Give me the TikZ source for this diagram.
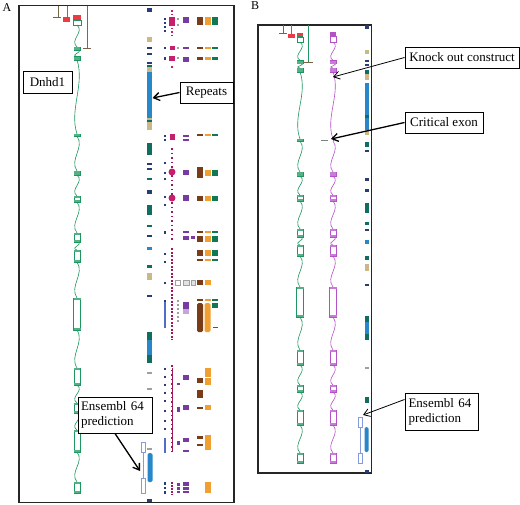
\documentclass[tikz,border=0pt]{standalone}
\usepackage{fontspec}
\setmainfont{Liberation Serif}
\usetikzlibrary{arrows.meta}
\definecolor{gn}{RGB}{30,150,95}
\definecolor{vi}{RGB}{180,80,200}
\definecolor{rd}{RGB}{235,60,70}
\definecolor{rb}{RGB}{40,135,200}
\definecolor{bg}{RGB}{200,185,135}
\definecolor{tl}{RGB}{15,110,95}
\definecolor{mg}{RGB}{200,30,110}
\definecolor{pu}{RGB}{120,60,160}
\definecolor{br}{RGB}{120,60,25}
\definecolor{orx}{RGB}{240,160,50}
\definecolor{dg}{RGB}{15,120,85}
\definecolor{nv}{RGB}{40,60,120}
\definecolor{lb}{RGB}{80,110,200}
\definecolor{gy}{RGB}{160,160,160}
\definecolor{tk}{RGB}{120,100,70}
\tikzset{
  frame/.style={draw=black!85, line width=1.4pt},
  lbl/.style={draw=black, line width=0.9pt, fill=white, inner sep=2pt, font=\fontsize{13}{15}\selectfont},
  ptr/.style={-{Straight Barb[length=6pt,width=8pt]}, line width=1.3pt},
  thinptr/.style={-{Straight Barb[length=6pt,width=8pt]}, line width=0.8pt},
  letter/.style={font=\fontsize{12}{14}\selectfont, inner sep=0pt}
}
% x, halfwidth, y1, y2, colour
\newcommand{\blk}[5]{\fill[fill=#5] ({#1-#2},#3) rectangle ({#1+#2},#4);}
% intron: x, y1, y2, colour
\newcommand{\intr}[4]{\draw[draw=#4, line width=0.6pt] (#1,#2) .. controls ({#1+8},{#2+(#3-#2)*0.33}) and ({#1-8},{#2+(#3-#2)*0.67}) .. (#1,#3);}
% exon: x, hw, y1, y2, colour
\newcommand{\exo}[5]{%
  \draw[draw=#5, line width=0.5pt, fill=white] ({#1-#2},#3) rectangle ({#1+#2},#4);
  \fill[fill=#5!75] ({#1-#2},#3) rectangle ({#1+#2},{#3+1.6});
  \fill[fill=#5!75] ({#1-#2},{#4-1.6}) rectangle ({#1+#2},#4);}
\begin{document}
\begin{tikzpicture}[x=1pt,y=-1pt]
\useasboundingbox (0,0) rectangle (520,504);
\fill[white] (0,0) rectangle (520,504);

% ================= PANEL A =================
\node[letter] (lA) at (7,8) {A};
\draw[frame] (19,5.5) rectangle (234,502.5);

% top features
\draw[tk, line width=0.6pt] (58,5.5) -- (58,17);
\draw[tk, line width=0.9pt] (53,17) -- (61,17);
\draw[rd, line width=0.6pt] (67,5.5) -- (67,17);
\fill[rd] (63,17) rectangle (70,22);
\draw[gn, line width=0.6pt] (87,5.5) -- (87,48);
\draw[tk, line width=1pt] (83,48) -- (91,48);
\fill[rd] (73,15) rectangle (81,18.5);
\fill[gn] (73,18.5) rectangle (81,20);
\draw[gn, line width=0.5pt, fill=white] (73,20) rectangle (81,25);

% gene A (green)
\foreach \a/\b in {25/47,50/56.5,60/134,136/171,175/196,202/233,242/250,262/298,330/368,385/403,413/430,452/482}
  {\intr{77}{\a}{\b}{gn}}
\foreach \a/\b in {47/50,56.5/60,134/136,171/175,196/202,233/242,250/262,368/385,403/413,430/452,482/493}
  {\exo{77}{3}{\a}{\b}{gn}}
\exo{77}{3.5}{298}{330}{gn}

% repeats column A
\foreach \a/\b/\c in {8/12/nv,37/42/bg,47/48.5/nv,53/54.5/nv,62/64/nv,65/67/tl,67/72/bg,72/120/rb,118/128/bg,120/122/tl,127/130/bg,143/155/tl,163/164.5/nv,168/169.5/nv,178/180/tl,190/191.5/nv,192/194/nv,205/215/tl,225/227/tl,235/236.5/nv,247/250/rb,265/268/tl,273/280/bg,295/296.5/nv,332/340/tl,340/355/rb,355/363/tl,372/373.5/gy,388/389.5/gy,418/432/tl,424/428/bg,448/449.5/gy,499/502/nv}
  {\blk{149.5}{2.5}{\a}{\b}{\c}}

% ensembl A
\draw[lb!70, line width=0.5pt] (143,452) -- (143,478);
\draw[lb!70, line width=0.5pt, fill=white] (141,442) rectangle (145,452);
\draw[lb!70, line width=0.5pt, fill=white] (141,478) rectangle (145,493);
\fill[rb, rounded corners=1.5pt] (147.5,453) rectangle (152.5,482);

% navy column x=165
\foreach \a/\b in {18/20,22/24,26/28,30/31.5,47/49,57/60,135/137,139/141,162/164,172/174,178/180,196/198,204/206,231/234,253/255,261/263,282/283.5,300/302,368/370,376/378,384/386,392/394,400/402,410/412,420/422,428/430,482/485,487/489,491/494}
  {\blk{165}{1.2}{\a}{\b}{nv}}
\blk{165}{1}{302}{328}{lb}
\blk{165}{1.2}{438}{453}{lb}

% magenta column x=172
\draw[mg, line width=2.2pt, dash pattern=on 1.5pt off 2pt] (172,10) -- (172,35);
\blk{172}{3}{17}{26}{mg}
\blk{172}{2.5}{46}{50}{mg}
\blk{172}{3}{56}{61}{mg}
\blk{172}{1}{66}{68}{mg}
\blk{172}{2.5}{134}{140}{mg}
\draw[mg!80!black, line width=1.8pt, dash pattern=on 1.5pt off 3pt] (172,148) -- (172,240);
\fill[mg] (172,172) circle (3.5);
\fill[mg] (172,198) circle (3.5);
\draw[mg!80!black, line width=2pt, dash pattern=on 2pt off 1.5pt] (172,248) -- (172,340);
\draw[mg!80!black, line width=2pt, dash pattern=on 1.5pt off 3pt] (172,365) -- (172,455);
\draw[mg!80!black, line width=0.5pt] (172,368) -- (172,452);
\draw[mg!80!black, line width=2pt, dash pattern=on 2pt off 1pt] (172,482) -- (172,495);

% grey/purple column x=178
\foreach \a/\b in {18/20,24/26,47/49,57/59}
  {\blk{178}{1.3}{\a}{\b}{gy}}
\draw[gy, line width=0.5pt, fill=white] (175.5,280) rectangle (180.5,285);
\draw[gy, line width=2pt, dash pattern=on 2pt off 2pt] (178,300) -- (178,322);
\foreach \a/\b in {383/385,407/412,441/445,483/486,487/490,491/493}
  {\blk{178}{1.5}{\a}{\b}{pu}}

% purple column x=186
\foreach \a/\b in {17/23,47/49,57/62,135/137,139/141,170/175,195/201,231/233,236/240,302/309,375/380,405/410,438/442,450/452,482/486,487/490,491/493}
  {\blk{186}{3}{\a}{\b}{pu}}
\blk{186}{3}{309}{314}{pu!45}
\draw[gy, line width=0.5pt, fill=gy!30] (183,280) rectangle (189,285);
\draw[gy, line width=0.5pt, fill=gy!30] (191,280) rectangle (195.5,285);
\blk{193}{1.8}{236}{239}{pu}

% brown / orange / green columns
\foreach \a/\b in {17/25,47/49,57/60,134/136,196/201,231/233,236/242,250/256,259/261,299/301}
  {\blk{200}{3}{\a}{\b}{br}\blk{207.5}{3}{\a}{\b}{orx}\blk{215}{3}{\a}{\b}{dg}}
\foreach \a/\b in {167/178,280/285,378/383,390/398,407/409,436/439,444/446}
  {\blk{200}{3}{\a}{\b}{br}}
\fill[br, rounded corners=1.5pt] (197,303) rectangle (203,332);
\foreach \a/\b in {170/176,280/285,368/377,378/385,405/410,435/450,482/493}
  {\blk{207.5}{3}{\a}{\b}{orx}}
\fill[orx, rounded corners=1.5pt] (204.5,303) rectangle (210.5,332);
\foreach \a/\b in {170/176,303/308}
  {\blk{215}{3}{\a}{\b}{dg}}
\blk{215}{2.5}{326.5}{327.5}{dg}

% labels A
\node[lbl, minimum width=49pt, minimum height=22pt] (dn) at (47.5,82) {Dnhd1};
\node[lbl, minimum width=53pt, minimum height=21pt] (rp) at (206.5,92.5) {Repeats};
\coordinate (rpT) at (152.5,98);
\draw[ptr] (rp.west) -- (rpT);
\node[lbl, minimum width=74pt, minimum height=36pt, align=left, text width=68pt] (eA) at (115,415) {Ensembl 64\\prediction};
\coordinate (eAT) at (140,471);
\draw[ptr] (eA.south) -- (eAT);

% ================= PANEL B =================
\node[letter] (lB) at (255,6) {B};
\draw[frame] (258,25) rectangle (371.5,473);

% top features
\draw[tk, line width=0.6pt] (283,25) -- (283,33);
\draw[tk, line width=0.9pt] (279,33) -- (287,33);
\draw[rd, line width=0.6pt] (291,25) -- (291,34);
\fill[rd] (288,34) rectangle (295,38);
\draw[gn, line width=0.6pt] (308,25) -- (308,62);
\draw[tk, line width=1pt] (303,62) -- (313,62);
\fill[rd] (297,33) rectangle (303,35.5);
\fill[gn] (297,35.5) rectangle (303,37);
\draw[gn, line width=0.5pt, fill=white] (297,37) rectangle (303,42);
\fill[vi] (330,32) rectangle (336,36);
\draw[vi, line width=0.5pt, fill=white] (330,36) rectangle (336,42);

% genes B
\foreach \g/\col in {300/gn,333/vi}{
  \foreach \a/\b in {42/60.5,63.5/68,72/139,141/172,176/195,201/229,237/245,256/287,317/350,365/385,392/410,425/453}
    {\intr{\g}{\a}{\b}{\col}}
  \foreach \a/\b in {60.5/63.5,68/72,172/176,195/201,229/237,245/256,350/365,385/392,410/425,453/463}
    {\exo{\g}{3}{\a}{\b}{\col}}
  \exo{\g}{3.5}{287}{317}{\col}
}
% green has exon at 140, magenta does not
\exo{300}{3}{139}{141}{gn}
\draw[vi, line width=0.6pt] (333,139) -- (333,141);
% critical exon mark
\draw[gy!80!black, line width=0.9pt] (321,140) -- (328,140);

% repeats column B
\foreach \a/\b/\c in {25/29/nv,50/54/bg,60/61.5/nv,64/66/nv,70/74/tl,74/80/bg,83/130/rb,115/118/tl,130/135/bg,142/147/tl,150/152/nv,178/181/nv,189/192/nv,203/213/tl,222/225/tl,229/231/nv,240/244/rb,256/260/tl,264/271/bg,284/285.5/nv,316/322/tl,322/334/rb,334/340/tl,367/368.5/gy,397/403/tl,470/473/nv}
  {\blk{366.5}{2}{\a}{\b}{\c}}
\fill[rb, rounded corners=1.5pt] (364.5,427) rectangle (368.5,452);

% ensembl B
\draw[lb!70, line width=0.5pt] (360,427) -- (360,453);
\draw[lb!70, line width=0.5pt, fill=white] (358,417) rectangle (362,427);
\draw[lb!70, line width=0.5pt, fill=white] (358,453) rectangle (362,463);

% labels B
\node[lbl, minimum width=114pt, minimum height=21pt] (ko) at (462,57.5) {Knock out construct};
\coordinate (koT) at (333,77);
\draw[thinptr] (ko.west) -- (koT);
\node[lbl, minimum width=78pt, minimum height=21pt] (ce) at (444,122.5) {Critical exon};
\coordinate (ceT) at (331,139);
\draw[ptr] (ce.west) -- (ceT);
\node[lbl, minimum width=73pt, minimum height=37pt, align=left, text width=66pt] (eB) at (441.5,411.5) {Ensembl 64\\prediction};
\coordinate (eBT) at (363,415);
\draw[thinptr] (eB.162) -- (eBT);
\end{tikzpicture}
\end{document}
